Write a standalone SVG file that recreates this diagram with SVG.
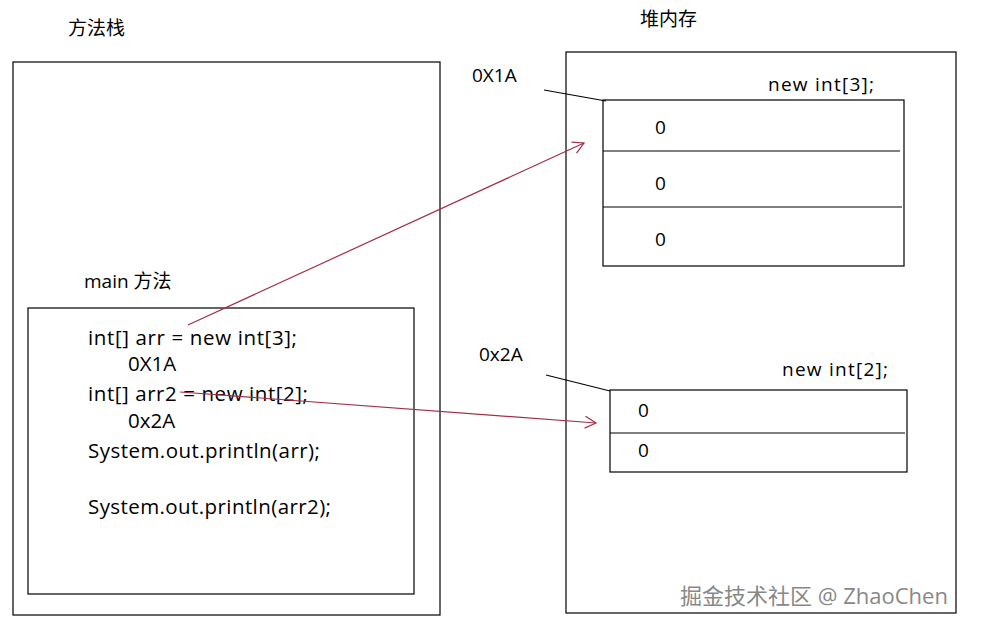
<svg xmlns="http://www.w3.org/2000/svg" width="1008" height="629" viewBox="0 0 1008 629">
<style>
.b{fill:none;stroke:#000;stroke-width:1.2}
.l{stroke:#000;stroke-width:1.2}
text{font-family:"Open Sans","Noto Sans CJK SC",sans-serif;font-size:19px;fill:#000}
.c{font-size:20.5px}
.a{stroke:#a03048;stroke-width:1.2;fill:none;marker-end:url(#m)}
</style>
<defs><marker id="m" markerWidth="14" markerHeight="14" refX="12" refY="7" orient="auto" markerUnits="userSpaceOnUse"><path d="M1,1 L12,7 L1,13" fill="none" stroke="#a03048" stroke-width="1.2"/></marker></defs>
<rect width="1008" height="629" fill="#fff"/>
<g id="stack"><text x="68" y="35">方法栈</text><rect class="b" x="13" y="62" width="427" height="553"/></g>
<g id="heap"><text x="640" y="26">堆内存</text><rect class="b" x="566" y="52" width="390" height="561"/></g>
<g id="main"><text x="84" y="288">main 方法</text><rect class="b" x="28" y="308" width="386" height="286"/>
<text class="c" x="88" y="345" textLength="209">int[] arr = new int[3];</text>
<text class="c" x="128" y="371">0X1A</text>
<text class="c" x="88" y="401" textLength="220">int[] arr2 = new int[2];</text>
<text class="c" x="128" y="428">0x2A</text>
<text class="c" x="88" y="458" textLength="232">System.out.println(arr);</text>
<text class="c" x="88" y="514" textLength="243">System.out.println(arr2);</text></g>
<g id="arr1"><text x="472" y="82">0X1A</text><text x="768" y="91" textLength="106">new int[3];</text>
<rect class="b" x="603" y="100" width="301" height="166"/><line class="l" x1="603" y1="151" x2="900" y2="151"/><line class="l" x1="603" y1="207" x2="902" y2="207"/>
<text x="655" y="134">0</text><text x="655" y="190">0</text><text x="655" y="246">0</text></g>
<g id="arr2"><text x="479" y="361">0x2A</text><text x="782" y="376" textLength="106">new int[2];</text>
<rect class="b" x="610" y="390" width="297" height="82"/><line class="l" x1="610" y1="433" x2="905" y2="433"/>
<text x="638" y="417">0</text><text x="638" y="457">0</text></g>
<g id="connectors">
<line class="l" x1="544" y1="90" x2="606" y2="101"/>
<line class="l" x1="546" y1="375" x2="610" y2="391"/>
<line class="a" x1="188" y1="325" x2="584" y2="143"/>
<line class="a" x1="180" y1="392" x2="596" y2="423"/>
</g>
<text x="680" y="604" style="font-size:22px;fill:#888">掘金技术社区 @ ZhaoChen</text>
</svg>
